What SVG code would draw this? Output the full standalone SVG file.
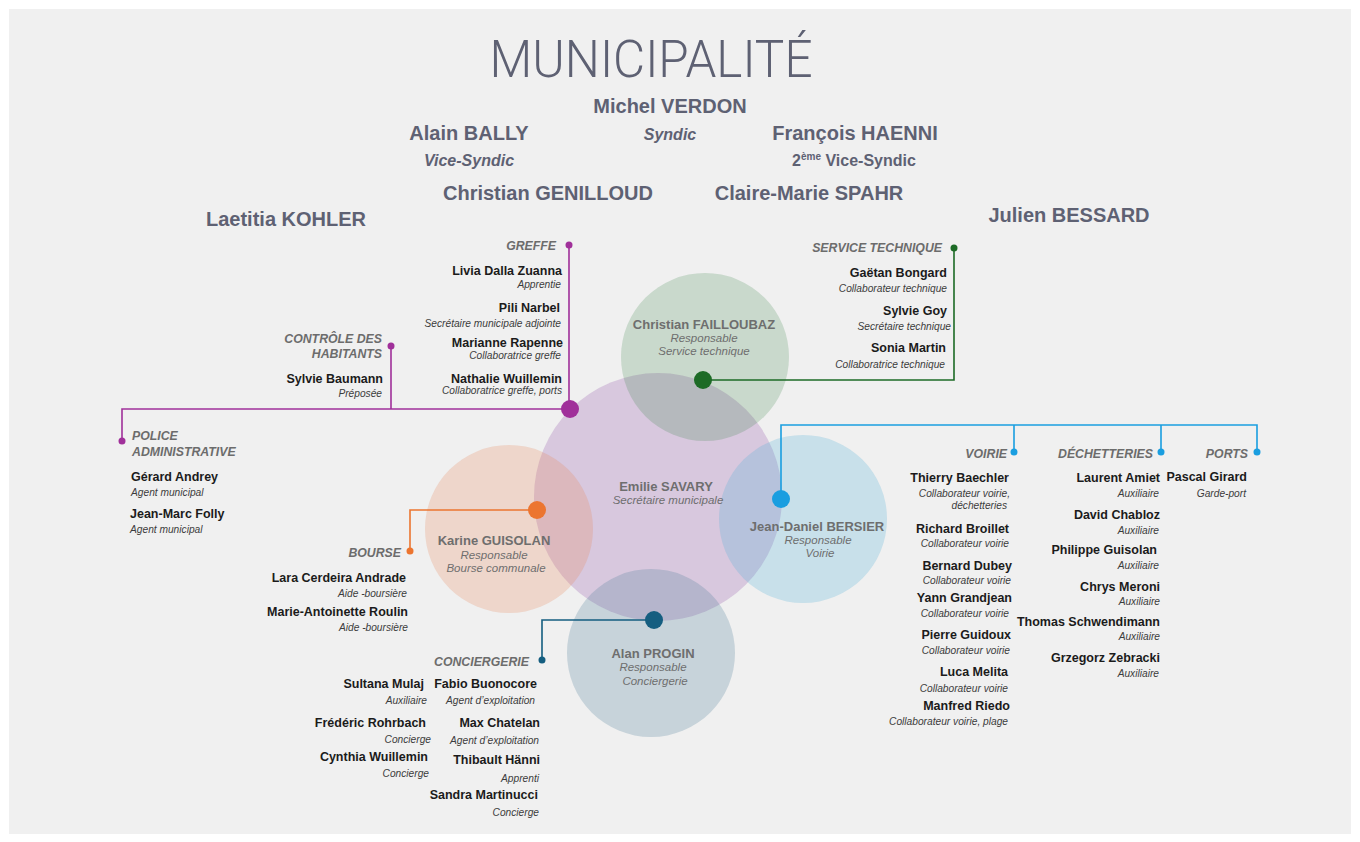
<svg xmlns="http://www.w3.org/2000/svg" width="1360" height="842" viewBox="0 0 1360 842">
<style>
.hd{font-family:"Liberation Sans",Arial,sans-serif;font-weight:bold;font-size:20px;fill:#5e6173}
.hdi{font-family:"Liberation Sans",Arial,sans-serif;font-weight:bold;font-style:italic;font-size:16px;fill:#5e6173}
.hds{font-family:"Liberation Sans",Arial,sans-serif;font-weight:bold;font-size:16px;fill:#5e6173}
.n{font-family:"Liberation Sans",Arial,sans-serif;font-weight:bold;font-size:12.5px;fill:#1b1b1b}
.r{font-family:"Liberation Sans",Arial,sans-serif;font-style:italic;font-size:10.2px;fill:#3c3c3c}
.s{font-family:"Liberation Sans",Arial,sans-serif;font-weight:bold;font-style:italic;font-size:12.3px;fill:#6c6c6c}
.cn{font-family:"Liberation Sans",Arial,sans-serif;font-weight:bold;font-size:13px;fill:#6e6e6e;text-anchor:middle}
.cr{font-family:"Liberation Sans",Arial,sans-serif;font-style:italic;font-size:11.5px;fill:#6e6e6e;text-anchor:middle}
.e{text-anchor:end}
.m{text-anchor:middle}
.ln{fill:none;stroke-width:1.6}
</style>
<rect x="0" y="0" width="1360" height="842" fill="#ffffff"/>
<rect x="9" y="9" width="1342" height="825" fill="#f0f0f0"/>

<g id="header">
<text x="651" y="77" text-anchor="middle" font-family="Roboto,'Liberation Sans',sans-serif" font-weight="300" font-size="51" fill="#5e6173" textLength="323" lengthAdjust="spacingAndGlyphs">MUNICIPALITÉ</text>
<text class="hd m" x="670" y="113">Michel VERDON</text>
<text class="hdi m" x="670" y="140">Syndic</text>
<text class="hd m" x="469" y="140">Alain BALLY</text>
<text class="hdi m" x="469" y="166">Vice-Syndic</text>
<text class="hd m" x="855" y="140">François HAENNI</text>
<text class="hds m" x="854" y="166">2<tspan font-size="10" dy="-6">ème</tspan><tspan dy="6"> Vice-Syndic</tspan></text>
<text class="hd m" x="548" y="200">Christian GENILLOUD</text>
<text class="hd m" x="809" y="200">Claire-Marie SPAHR</text>
<text class="hd m" x="286" y="226">Laetitia KOHLER</text>
<text class="hd m" x="1069" y="222">Julien BESSARD</text>
</g>

<g id="circles">
<circle id="c-savary" cx="658" cy="497" r="124" fill="#8e4fa8" fill-opacity="0.25"/>
<circle id="c-failloubaz" cx="705" cy="357" r="84" fill="#2e7d3a" fill-opacity="0.2"/>
<circle id="c-guisolan" cx="509" cy="529" r="84" fill="#e8895a" fill-opacity="0.25"/>
<circle id="c-bersier" cx="803" cy="519" r="84" fill="#4fb0d8" fill-opacity="0.25"/>
<circle id="c-progin" cx="651" cy="653" r="84" fill="#4a7a96" fill-opacity="0.25"/>
</g>

<g id="connectors">
<path class="ln" stroke="#a0309a" d="M570 409 H122 V441 M391 409 V346 M569 409 V245"/>
<path class="ln" stroke="#1d6b26" d="M703 380 H954 V248"/>
<path class="ln" stroke="#1a9ee0" d="M781 499 V425 H1257 V452 M1014 425 V452 M1161 425 V452"/>
<path class="ln" stroke="#ec7530" d="M537 510 H410 V551"/>
<path class="ln" stroke="#155e80" d="M654 620 H542 V660"/>
<g fill="#a0309a"><circle cx="570" cy="409" r="9"/><circle cx="122" cy="441" r="3.5"/><circle cx="391" cy="346" r="3.5"/><circle cx="569" cy="245" r="3.5"/></g>
<g fill="#1d6b26"><circle cx="703" cy="380" r="9"/><circle cx="954" cy="248" r="3.5"/></g>
<g fill="#1a9ee0"><circle cx="781" cy="499" r="9"/><circle cx="1014" cy="452" r="3.5"/><circle cx="1161" cy="452" r="3.5"/><circle cx="1257" cy="452" r="3.5"/></g>
<g fill="#ec7530"><circle cx="537" cy="510" r="9"/><circle cx="410" cy="551" r="3.5"/></g>
<g fill="#155e80"><circle cx="654" cy="620" r="9"/><circle cx="542" cy="660" r="3.5"/></g>
</g>

<g id="node-savary">
<text class="cn" x="666" y="491">Emilie SAVARY</text>
<text class="cr" x="668" y="504">Secrétaire municipale</text>
</g>
<g id="node-failloubaz">
<text class="cn" x="704" y="329">Christian FAILLOUBAZ</text>
<text class="cr" x="704" y="342">Responsable</text>
<text class="cr" x="704" y="355">Service technique</text>
</g>
<g id="node-guisolan">
<text class="cn" x="494" y="545">Karine GUISOLAN</text>
<text class="cr" x="494" y="559">Responsable</text>
<text class="cr" x="496" y="572">Bourse communale</text>
</g>
<g id="node-bersier">
<text class="cn" x="817" y="531">Jean-Daniel BERSIER</text>
<text class="cr" x="818" y="544">Responsable</text>
<text class="cr" x="820" y="557">Voirie</text>
</g>
<g id="node-progin">
<text class="cn" x="653" y="658">Alan PROGIN</text>
<text class="cr" x="653" y="671">Responsable</text>
<text class="cr" x="655" y="685">Conciergerie</text>
</g>

<g id="greffe">
<text class="s e" x="556" y="250">GREFFE</text>
<text class="n e" x="562" y="275">Livia Dalla Zuanna</text>
<text class="r e" x="561" y="288">Apprentie</text>
<text class="n e" x="560" y="312">Pili Narbel</text>
<text class="r e" x="561" y="327">Secrétaire municipale adjointe</text>
<text class="n e" x="563" y="347">Marianne Rapenne</text>
<text class="r e" x="561" y="359">Collaboratrice greffe</text>
<text class="n e" x="562" y="383">Nathalie Wuillemin</text>
<text class="r e" x="562" y="394">Collaboratrice greffe, ports</text>
</g>

<g id="controle">
<text class="s e" x="382" y="343">CONTRÔLE DES</text>
<text class="s e" x="382" y="358">HABITANTS</text>
<text class="n e" x="383" y="383">Sylvie Baumann</text>
<text class="r e" x="382" y="397">Préposée</text>
</g>

<g id="police">
<text class="s" x="132" y="440">POLICE</text>
<text class="s" x="132" y="456">ADMINISTRATIVE</text>
<text class="n" x="131" y="481">Gérard Andrey</text>
<text class="r" x="131" y="496">Agent municipal</text>
<text class="n" x="130" y="518">Jean-Marc Folly</text>
<text class="r" x="130" y="533">Agent municipal</text>
</g>

<g id="service-technique">
<text class="s e" x="942" y="252">SERVICE TECHNIQUE</text>
<text class="n e" x="947" y="277">Gaëtan Bongard</text>
<text class="r e" x="947" y="292">Collaborateur technique</text>
<text class="n e" x="947" y="315">Sylvie Goy</text>
<text class="r e" x="951" y="330">Secrétaire technique</text>
<text class="n e" x="946" y="352">Sonia Martin</text>
<text class="r e" x="945" y="368">Collaboratrice technique</text>
</g>

<g id="voirie">
<text class="s e" x="1007" y="458">VOIRIE</text>
<text class="n e" x="1009" y="482">Thierry Baechler</text>
<text class="r e" x="1010" y="497">Collaborateur voirie,</text>
<text class="r e" x="1007" y="509">déchetteries</text>
<text class="n e" x="1009" y="533">Richard Broillet</text>
<text class="r e" x="1009" y="547">Collaborateur voirie</text>
<text class="n e" x="1012" y="570">Bernard Dubey</text>
<text class="r e" x="1011" y="584">Collaborateur voirie</text>
<text class="n e" x="1012" y="602">Yann Grandjean</text>
<text class="r e" x="1009" y="617">Collaborateur voirie</text>
<text class="n e" x="1011" y="639">Pierre Guidoux</text>
<text class="r e" x="1010" y="654">Collaborateur voirie</text>
<text class="n e" x="1008" y="676">Luca Melita</text>
<text class="r e" x="1008" y="692">Collaborateur voirie</text>
<text class="n e" x="1010" y="710">Manfred Riedo</text>
<text class="r e" x="1008" y="725">Collaborateur voirie, plage</text>
</g>

<g id="dechetteries">
<text class="s e" x="1153" y="458">DÉCHETTERIES</text>
<text class="n e" x="1160" y="482">Laurent Amiet</text>
<text class="r e" x="1159" y="497">Auxiliaire</text>
<text class="n e" x="1160" y="519">David Chabloz</text>
<text class="r e" x="1159" y="534">Auxiliaire</text>
<text class="n e" x="1157" y="554">Philippe Guisolan</text>
<text class="r e" x="1159" y="569">Auxiliaire</text>
<text class="n e" x="1160" y="591">Chrys Meroni</text>
<text class="r e" x="1160" y="605">Auxiliaire</text>
<text class="n e" x="1160" y="626">Thomas Schwendimann</text>
<text class="r e" x="1160" y="640">Auxiliaire</text>
<text class="n e" x="1160" y="662">Grzegorz Zebracki</text>
<text class="r e" x="1159" y="677">Auxiliaire</text>
</g>

<g id="ports">
<text class="s e" x="1248" y="458">PORTS</text>
<text class="n e" x="1247" y="481">Pascal Girard</text>
<text class="r e" x="1246" y="497">Garde-port</text>
</g>

<g id="bourse">
<text class="s e" x="401" y="557">BOURSE</text>
<text class="n e" x="406" y="582">Lara Cerdeira Andrade</text>
<text class="r e" x="407" y="597">Aide -boursière</text>
<text class="n e" x="408" y="616">Marie-Antoinette Roulin</text>
<text class="r e" x="408" y="631">Aide -boursière</text>
</g>

<g id="conciergerie">
<text class="s e" x="529" y="666">CONCIERGERIE</text>
<text class="n e" x="424" y="688">Sultana Mulaj</text>
<text class="r e" x="427" y="704">Auxiliaire</text>
<text class="n e" x="426" y="727">Frédéric Rohrbach</text>
<text class="r e" x="431" y="743">Concierge</text>
<text class="n e" x="428" y="761">Cynthia Wuillemin</text>
<text class="r e" x="429" y="777">Concierge</text>
<text class="n e" x="537" y="688">Fabio Buonocore</text>
<text class="r e" x="535" y="704">Agent d’exploitation</text>
<text class="n e" x="540" y="727">Max Chatelan</text>
<text class="r e" x="539" y="744">Agent d’exploitation</text>
<text class="n e" x="540" y="764">Thibault Hänni</text>
<text class="r e" x="539" y="782">Apprenti</text>
<text class="n e" x="538" y="799">Sandra Martinucci</text>
<text class="r e" x="539" y="816">Concierge</text>
</g>
</svg>
